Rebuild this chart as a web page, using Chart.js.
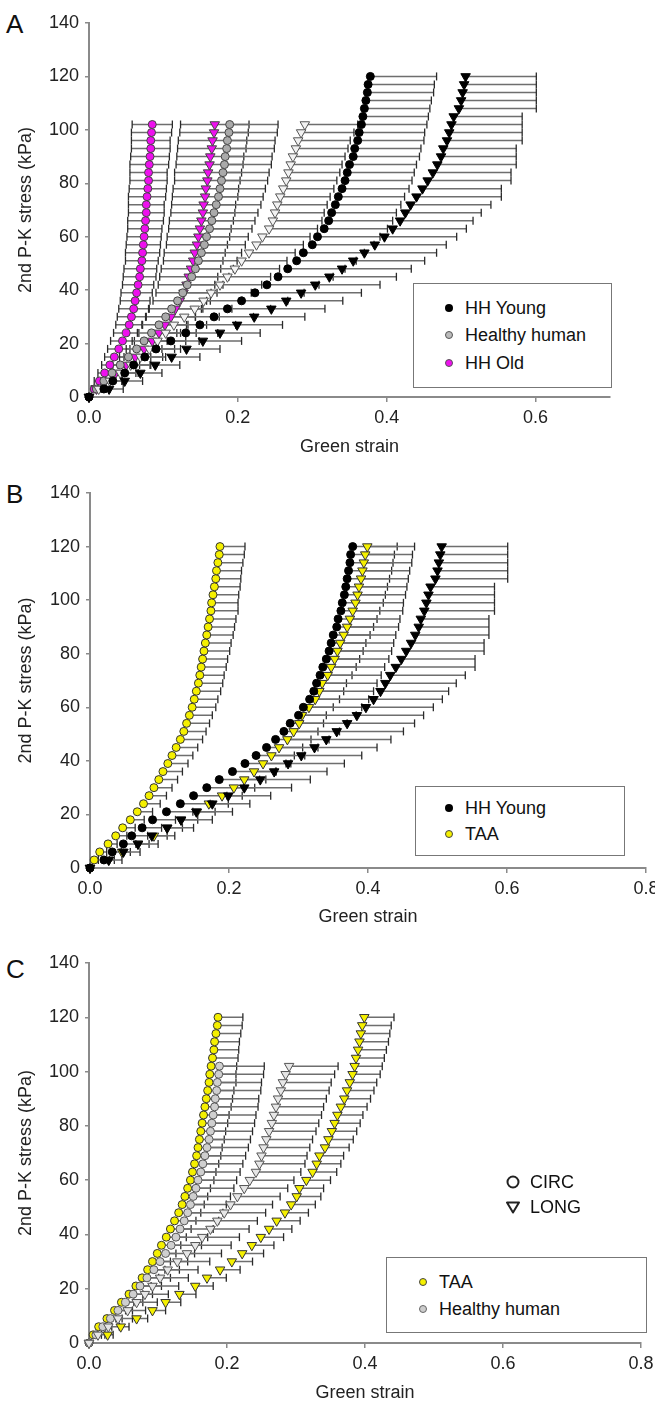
<!DOCTYPE html>
<html><head><meta charset="utf-8">
<script src="https://cdn.jsdelivr.net/npm/chart.js@4.4.0/dist/chart.umd.min.js"></script>
<style>
html,body{margin:0;padding:0;background:#fff;}
body{width:655px;height:1409px;position:relative;overflow:hidden;font-family:"Liberation Sans",Arial,sans-serif;color:#111;}
canvas{position:absolute;left:0;}
.letter{position:absolute;left:6px;font-size:26px;line-height:26px;}
.legend{position:absolute;border:1.5px solid #777;background:#fff;box-sizing:border-box;}
.item{position:absolute;white-space:nowrap;font-size:18px;line-height:18px;transform:translateY(-50%);}
.mk{position:absolute;transform:translate(-50%,-50%);border-radius:50%;box-sizing:border-box;}
svg{position:absolute;overflow:visible;}
</style></head>
<body>
<div class="letter" style="top:11px">A</div>
<div class="letter" style="top:481px">B</div>
<div class="letter" style="top:956px">C</div>
<canvas id="cA" width="655" height="465" style="top:0px"></canvas>
<canvas id="cB" width="655" height="455" style="top:470px"></canvas>
<canvas id="cC" width="655" height="469" style="top:940px"></canvas>

<div class="legend" style="left:413px;top:283px;width:199px;height:105px"></div>
<div class="mk" style="left:449px;top:308px;width:8px;height:8px;background:#000"></div>
<div class="item" style="left:465px;top:308px">HH Young</div>
<div class="mk" style="left:449px;top:335px;width:8px;height:8px;background:#bbb;border:1.5px solid #555"></div>
<div class="item" style="left:465px;top:335px">Healthy human</div>
<div class="mk" style="left:449px;top:363px;width:8px;height:8px;background:#ee10ee;border:1px solid #555"></div>
<div class="item" style="left:465px;top:363px">HH Old</div>

<div class="legend" style="left:415px;top:786px;width:210px;height:70px"></div>
<div class="mk" style="left:449px;top:808px;width:8px;height:8px;background:#000"></div>
<div class="item" style="left:465px;top:808px">HH Young</div>
<div class="mk" style="left:449px;top:834px;width:8px;height:8px;background:#f5f000;border:1.2px solid #444"></div>
<div class="item" style="left:465px;top:834px">TAA</div>

<svg style="left:513px;top:1182px" width="1" height="1"><circle cx="0" cy="0" r="5.5" fill="#fff" stroke="#222" stroke-width="2"/></svg>
<div class="item" style="left:530px;top:1182px">CIRC</div>
<svg style="left:513px;top:1207px" width="1" height="1"><polygon points="-6,-4.5 6,-4.5 0,5.5" fill="#fff" stroke="#222" stroke-width="2" stroke-linejoin="round"/></svg>
<div class="item" style="left:530px;top:1207px">LONG</div>

<div class="legend" style="left:386px;top:1257px;width:261px;height:76px"></div>
<div class="mk" style="left:423px;top:1282px;width:8px;height:8px;background:#f5f000;border:1.2px solid #444"></div>
<div class="item" style="left:439px;top:1282px">TAA</div>
<div class="mk" style="left:423px;top:1309px;width:8px;height:8px;background:#ccc;border:1.5px solid #666"></div>
<div class="item" style="left:439px;top:1309px">Healthy human</div>

<script>
// ---------- data (stress in kPa, Green strain) ----------
const stress120 = [0,3,6,9,12,15,18,21,24,27,30,33,36,39,42,45,48,51,54,57,60,63,66,69,72,75,78,81,84,87,90,93,96,99,102,105,108,111,114,117,120];
const stress102 = [0,3,6,9,12,15,18,21,24,27,30,33,36,39,42,45,48,51,54,57,60,63,66,69,72,75,78,81,84,87,90,93,96,99,102];

const hhYoungCirc = [0.000,0.020,0.032,0.048,0.060,0.075,0.090,0.110,0.130,0.149,0.168,0.186,0.205,0.223,0.239,0.254,0.267,0.279,0.288,0.300,0.307,0.316,0.322,0.326,0.331,0.335,0.340,0.344,0.347,0.350,0.355,0.357,0.361,0.363,0.366,0.368,0.370,0.372,0.374,0.375,0.378];
const hhYoungCircErr = [0,0.008,0.013,0.018,0.023,0.028,0.033,0.038,0.043,0.048,0.053,0.058,0.062,0.066,0.070,0.074,0.077,0.080,0.082,0.083,0.084,0.085,0.086,0.087,0.088,0.089,0.090,0.090,0.090,0.090,0.089,0.089,0.089,0.088,0.088,0.088,0.088,0.088,0.089,0.089,0.089];
const hhYoungLong = [0.000,0.027,0.048,0.069,0.089,0.111,0.131,0.153,0.176,0.199,0.222,0.245,0.265,0.285,0.304,0.323,0.340,0.355,0.370,0.384,0.397,0.408,0.418,0.425,0.432,0.440,0.448,0.455,0.462,0.468,0.473,0.476,0.481,0.484,0.487,0.490,0.497,0.500,0.502,0.504,0.506];
const hhYoungLongErr = [0,0.019,0.024,0.029,0.033,0.038,0.045,0.052,0.054,0.061,0.068,0.072,0.076,0.081,0.087,0.090,0.093,0.096,0.097,0.096,0.097,0.099,0.098,0.102,0.108,0.114,0.106,0.112,0.105,0.106,0.101,0.098,0.101,0.098,0.095,0.092,0.104,0.101,0.099,0.097,0.095];

const hhOldCirc = [0,0.007,0.014,0.021,0.028,0.034,0.040,0.045,0.050,0.054,0.057,0.060,0.062,0.064,0.066,0.068,0.069,0.071,0.072,0.073,0.074,0.075,0.076,0.077,0.077,0.078,0.079,0.080,0.080,0.081,0.082,0.083,0.083,0.084,0.085];
const hhOldCircErr = [0,0.004,0.007,0.009,0.011,0.013,0.015,0.016,0.017,0.018,0.019,0.020,0.020,0.021,0.021,0.022,0.022,0.022,0.023,0.023,0.023,0.023,0.024,0.024,0.024,0.025,0.025,0.025,0.025,0.026,0.026,0.026,0.026,0.027,0.027];
const hhOldLong = [0,0.010,0.022,0.036,0.050,0.062,0.074,0.085,0.094,0.102,0.110,0.116,0.122,0.127,0.131,0.134,0.137,0.140,0.142,0.145,0.147,0.149,0.151,0.153,0.154,0.156,0.157,0.159,0.160,0.162,0.163,0.165,0.166,0.168,0.169];
const hhOldLongErr = [0,0.006,0.010,0.014,0.018,0.021,0.024,0.027,0.029,0.031,0.033,0.035,0.036,0.037,0.038,0.039,0.040,0.040,0.041,0.041,0.042,0.042,0.043,0.043,0.043,0.044,0.044,0.044,0.045,0.045,0.045,0.046,0.046,0.046,0.046];

const healthyCirc = [0,0.010,0.020,0.031,0.042,0.053,0.064,0.074,0.084,0.094,0.103,0.111,0.119,0.126,0.132,0.138,0.143,0.147,0.151,0.155,0.158,0.162,0.165,0.168,0.171,0.174,0.176,0.178,0.180,0.182,0.183,0.185,0.186,0.188,0.189];
const healthyCircErr = [0,0.008,0.013,0.017,0.021,0.025,0.028,0.031,0.034,0.037,0.040,0.042,0.044,0.046,0.048,0.050,0.051,0.052,0.054,0.055,0.056,0.057,0.058,0.059,0.060,0.060,0.061,0.062,0.062,0.063,0.063,0.064,0.064,0.065,0.065];
const healthyLong = [0,0.013,0.028,0.042,0.056,0.069,0.081,0.092,0.103,0.114,0.128,0.142,0.154,0.164,0.176,0.186,0.196,0.205,0.215,0.225,0.233,0.242,0.247,0.250,0.253,0.257,0.261,0.265,0.268,0.271,0.274,0.278,0.281,0.285,0.290];
const healthyLongErr = [0,0.010,0.016,0.021,0.026,0.030,0.034,0.038,0.041,0.044,0.047,0.050,0.052,0.054,0.056,0.058,0.060,0.061,0.062,0.063,0.064,0.065,0.066,0.066,0.067,0.067,0.068,0.068,0.069,0.069,0.070,0.070,0.070,0.071,0.071];

const taaCirc = [0.000,0.006,0.014,0.026,0.037,0.047,0.058,0.068,0.077,0.085,0.092,0.099,0.105,0.112,0.118,0.124,0.130,0.135,0.139,0.143,0.147,0.150,0.153,0.156,0.158,0.160,0.162,0.164,0.166,0.168,0.170,0.172,0.174,0.175,0.177,0.179,0.181,0.182,0.184,0.186,0.187];
const taaCircErr = [0,0.006,0.010,0.013,0.016,0.018,0.020,0.022,0.024,0.025,0.026,0.027,0.028,0.029,0.030,0.031,0.032,0.032,0.033,0.033,0.034,0.034,0.035,0.035,0.035,0.036,0.036,0.037,0.037,0.038,0.038,0.038,0.039,0.038,0.037,0.037,0.036,0.036,0.036,0.036,0.036];
const taaLong = [0.000,0.027,0.046,0.069,0.092,0.111,0.131,0.154,0.171,0.190,0.207,0.222,0.236,0.249,0.261,0.272,0.284,0.293,0.301,0.305,0.315,0.324,0.330,0.334,0.342,0.347,0.352,0.356,0.360,0.365,0.370,0.374,0.378,0.382,0.385,0.387,0.390,0.392,0.394,0.396,0.399];
const taaLongErr = [0,0.008,0.012,0.016,0.019,0.022,0.024,0.026,0.028,0.029,0.030,0.031,0.032,0.033,0.033,0.034,0.034,0.035,0.035,0.035,0.035,0.035,0.035,0.035,0.035,0.036,0.036,0.037,0.037,0.038,0.038,0.039,0.039,0.040,0.040,0.041,0.041,0.042,0.042,0.042,0.043];

const xTicksA = [0, 0.2, 0.4, 0.6];
const xTicksBC = [0, 0.2, 0.4, 0.6, 0.8];

// ---------- helpers ----------
const FONT = {family:'"Liberation Sans", Arial, sans-serif', size:18};
const AXIS = '#8a8a8a';

function points(xs, ys){ return ys.map((y,i)=>({x:xs[i], y:y})); }
function errorBars(xs, ys, plus, minus){
  const out = [];
  ys.forEach((y,i)=>{
    const m = minus ? minus[i] : 0;
    if (!plus[i] && !m) return;
    out.push({x: xs[i]-m, y:y, cap: !!minus});
    out.push({x: xs[i]+plus[i], y:y, cap: true});
    out.push({x: null, y: null});
  });
  return out;
}
function barSet(data){
  return {data, showLine:true, spanGaps:false, borderColor:'#6e6e6e', borderWidth:1.5,
    pointStyle:'line', rotation:90,
    pointRadius: c => (c.raw && c.raw.cap) ? 4 : 0,
    pointBorderColor:'#2a2a2a', pointBorderWidth:1.3, order:10, clip:false};
}
function markSet(data, shape, fill, stroke, r){
  return {data, showLine:false, pointStyle:shape, rotation: shape==='triangle'?180:0,
    pointRadius:r, pointBackgroundColor:fill, pointBorderColor:stroke, pointBorderWidth:1, order:1, clip:false};
}

function makeChart(id, cfg){
  const lh = FONT.size*1.2/2;
  return new Chart(document.getElementById(id), {
    type:'scatter',
    data:{datasets: cfg.datasets},
    options:{
      responsive:false, animation:false, events:[],
      layout:{padding:{top:cfg.areaTop, right:655-cfg.right, bottom:0, left:0}},
      plugins:{legend:{display:false}, tooltip:{enabled:false}},
      scales:{
        x:{type:'linear', min:0, max:cfg.xmax,
          afterFit: s => { s.height = cfg.height - cfg.areaBottom; s.paddingLeft = 0; s.paddingRight = 0; },
          afterBuildTicks: s => { s.ticks = cfg.xticks.map(v=>({value:v})); },
          ticks:{callback: v => Number(v).toFixed(1), font:FONT, color:'#222', padding:5, maxRotation:0, autoSkip:false},
          grid:{drawOnChartArea:false, drawTicks:true, tickLength:5, color:AXIS, lineWidth:1.5},
          border:{display:true, color:AXIS, width:2},
          title:{display:true, text:'Green strain', font:FONT, color:'#222', padding:{top:0, bottom: cfg.height - cfg.titleY - lh}}
        },
        y:{type:'linear', min:0, max:140,
          afterFit: s => { s.width = cfg.left; },
          ticks:{stepSize:20, font:FONT, color:'#222', padding:6},
          grid:{drawOnChartArea:false, drawTicks:true, tickLength:4, color:AXIS, lineWidth:1.5},
          border:{display:true, color:AXIS, width:2},
          title:{display:true, text:'2nd P-K stress (kPa)', font:FONT, color:'#222', padding:{top:15, bottom:0}}
        }
      }
    }
  });
}

// Panel A
makeChart('cA', {height:465, areaTop:23, areaBottom:397, left:89, right:610, xmax:0.7, xticks:xTicksA, titleY:447,
  datasets:[
    barSet(errorBars(hhYoungLong, stress120, hhYoungLongErr)),
    barSet(errorBars(hhYoungCirc, stress120, hhYoungCircErr)),
    barSet(errorBars(healthyLong, stress102, healthyLongErr)),
    barSet(errorBars(healthyCirc, stress102, healthyCircErr)),
    barSet(errorBars(hhOldLong, stress102, hhOldLongErr, hhOldLongErr)),
    barSet(errorBars(hhOldCirc, stress102, hhOldCircErr, hhOldCircErr)),
    markSet(points(hhYoungLong, stress120), 'triangle', '#000', '#000', 5.5),
    markSet(points(hhYoungCirc, stress120), 'circle', '#000', '#000', 4),
    markSet(points(healthyLong, stress102), 'triangle', '#f2f2f2', '#555', 5.5),
    markSet(points(healthyCirc, stress102), 'circle', '#aaaaaa', '#444', 4),
    markSet(points(hhOldLong, stress102), 'triangle', '#ee10ee', '#444', 5.5),
    markSet(points(hhOldCirc, stress102), 'circle', '#ee10ee', '#444', 4)
  ]});

// Panel B
makeChart('cB', {height:455, areaTop:23, areaBottom:398, left:90, right:646, xmax:0.8, xticks:xTicksBC, titleY:447,
  datasets:[
    barSet(errorBars(hhYoungLong, stress120, hhYoungLongErr)),
    barSet(errorBars(hhYoungCirc, stress120, hhYoungCircErr)),
    barSet(errorBars(taaLong, stress120, taaLongErr)),
    barSet(errorBars(taaCirc, stress120, taaCircErr)),
    markSet(points(hhYoungLong, stress120), 'triangle', '#000', '#000', 5.5),
    markSet(points(hhYoungCirc, stress120), 'circle', '#000', '#000', 4),
    markSet(points(taaLong, stress120), 'triangle', '#f5f000', '#333', 5.5),
    markSet(points(taaCirc, stress120), 'circle', '#f5f000', '#333', 4)
  ]});

// Panel C
makeChart('cC', {height:469, areaTop:23, areaBottom:403, left:89, right:641, xmax:0.8, xticks:xTicksBC, titleY:453,
  datasets:[
    barSet(errorBars(healthyLong, stress102, healthyLongErr)),
    barSet(errorBars(healthyCirc, stress102, healthyCircErr)),
    barSet(errorBars(taaLong, stress120, taaLongErr)),
    barSet(errorBars(taaCirc, stress120, taaCircErr)),
    markSet(points(healthyLong, stress102), 'triangle', '#e6e6e6', '#555', 5.5),
    markSet(points(healthyCirc, stress102), 'circle', '#cfcfcf', '#555', 4),
    markSet(points(taaLong, stress120), 'triangle', '#f5f000', '#333', 5.5),
    markSet(points(taaCirc, stress120), 'circle', '#f5f000', '#333', 4)
  ]});
</script>
</body></html>
